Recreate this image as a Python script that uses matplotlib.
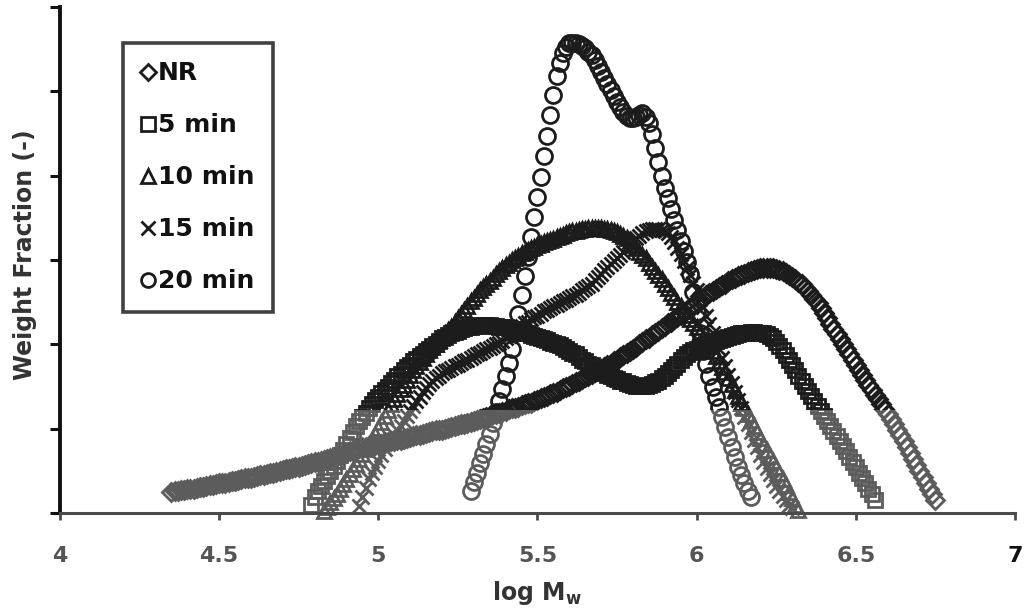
import numpy as np
import matplotlib.pyplot as plt
from matplotlib.lines import Line2D
from matplotlib.patches import Rectangle

# GPC slices are 0.01 apart in log Mw; each series lists its first slice and the weight fractions
x_start_nr = 4.35
wf_nr = [0.25, 0.26, 0.26, 0.27, 0.27, 0.28, 0.29, 0.29, 0.30, 0.31, 0.31, 0.32, 0.33, 0.33, 0.34,
         0.35, 0.35, 0.36, 0.37, 0.38, 0.38, 0.39, 0.40, 0.41, 0.41, 0.42, 0.43, 0.44, 0.45, 0.45,
         0.46, 0.47, 0.48, 0.49, 0.50, 0.51, 0.52, 0.52, 0.53, 0.54, 0.55, 0.56, 0.57, 0.58, 0.59,
         0.60, 0.61, 0.62, 0.63, 0.64, 0.65, 0.66, 0.68, 0.69, 0.70, 0.71, 0.73, 0.74, 0.75, 0.77,
         0.78, 0.78, 0.79, 0.80, 0.81, 0.82, 0.82, 0.83, 0.84, 0.85, 0.86, 0.86, 0.87, 0.88, 0.89,
         0.90, 0.91, 0.92, 0.93, 0.94, 0.95, 0.96, 0.97, 0.98, 0.98, 0.99, 1.00, 1.01, 1.02, 1.03,
         1.04, 1.05, 1.06, 1.07, 1.08, 1.09, 1.10, 1.12, 1.13, 1.14, 1.15, 1.17, 1.18, 1.19, 1.20,
         1.21, 1.23, 1.24, 1.25, 1.26, 1.28, 1.29, 1.30, 1.31, 1.33, 1.34, 1.36, 1.37, 1.39, 1.41,
         1.42, 1.44, 1.46, 1.48, 1.49, 1.51, 1.53, 1.55, 1.57, 1.59, 1.61, 1.63, 1.65, 1.67, 1.69,
         1.71, 1.73, 1.75, 1.77, 1.80, 1.82, 1.85, 1.87, 1.90, 1.92, 1.95, 1.97, 2.00, 2.03, 2.06,
         2.08, 2.11, 2.14, 2.16, 2.19, 2.22, 2.25, 2.27, 2.30, 2.33, 2.35, 2.38, 2.41, 2.43, 2.46,
         2.50, 2.53, 2.55, 2.58, 2.61, 2.63, 2.66, 2.68, 2.70, 2.72, 2.75, 2.77, 2.79, 2.81, 2.82,
         2.84, 2.86, 2.87, 2.88, 2.89, 2.90, 2.91, 2.91, 2.91, 2.90, 2.89, 2.88, 2.87, 2.85, 2.82,
         2.80, 2.77, 2.74, 2.71, 2.67, 2.63, 2.59, 2.54, 2.49, 2.43, 2.37, 2.31, 2.24, 2.18, 2.12,
         2.06, 2.00, 1.94, 1.88, 1.82, 1.76, 1.70, 1.64, 1.58, 1.52, 1.46, 1.40, 1.35, 1.29, 1.23,
         1.17, 1.11, 1.05, 0.99, 0.92, 0.85, 0.78, 0.71, 0.64, 0.57, 0.50, 0.43, 0.36, 0.29, 0.22,
         0.15]

x_start_5 = 4.79
wf_5 = [0.10, 0.19, 0.26, 0.32, 0.38, 0.44, 0.50, 0.56, 0.62, 0.69, 0.75, 0.82, 0.89, 0.96, 1.03,
        1.09, 1.14, 1.19, 1.24, 1.29, 1.34, 1.38, 1.42, 1.46, 1.50, 1.54, 1.58, 1.62, 1.65, 1.69,
        1.73, 1.76, 1.80, 1.83, 1.86, 1.89, 1.92, 1.95, 1.98, 2.01, 2.04, 2.07, 2.09, 2.11, 2.13,
        2.15, 2.16, 2.18, 2.19, 2.20, 2.21, 2.22, 2.22, 2.23, 2.23, 2.23, 2.23, 2.22, 2.22, 2.21,
        2.21, 2.20, 2.19, 2.18, 2.17, 2.16, 2.15, 2.14, 2.13, 2.11, 2.10, 2.09, 2.08, 2.06, 2.05,
        2.03, 2.02, 2.00, 1.99, 1.97, 1.95, 1.92, 1.90, 1.88, 1.85, 1.82, 1.80, 1.77, 1.75, 1.72,
        1.70, 1.68, 1.66, 1.64, 1.62, 1.60, 1.59, 1.57, 1.56, 1.54, 1.53, 1.52, 1.51, 1.51, 1.51,
        1.51, 1.52, 1.53, 1.55, 1.57, 1.60, 1.63, 1.66, 1.69, 1.73, 1.77, 1.81, 1.85, 1.88, 1.91,
        1.93, 1.95, 1.97, 1.99, 2.00, 2.01, 2.03, 2.04, 2.05, 2.06, 2.08, 2.09, 2.10, 2.11, 2.12,
        2.13, 2.14, 2.14, 2.15, 2.15, 2.14, 2.14, 2.13, 2.12, 2.10, 2.07, 2.03, 1.98, 1.93, 1.87,
        1.81, 1.75, 1.69, 1.63, 1.57, 1.51, 1.45, 1.39, 1.33, 1.27, 1.21, 1.15, 1.09, 1.03, 0.97,
        0.91, 0.85, 0.79, 0.73, 0.67, 0.61, 0.54, 0.48, 0.41, 0.35, 0.29, 0.22, 0.16]

x_start_10 = 4.83
wf_10 = [0.02, 0.07, 0.13, 0.18, 0.23, 0.28, 0.34, 0.40, 0.46, 0.52, 0.58, 0.64, 0.70, 0.76, 0.82,
         0.88, 0.94, 1.01, 1.08, 1.15, 1.22, 1.29, 1.35, 1.41, 1.47, 1.52, 1.58, 1.64, 1.69, 1.74,
         1.79, 1.84, 1.89, 1.93, 1.97, 2.01, 2.05, 2.09, 2.13, 2.17, 2.21, 2.26, 2.31, 2.36, 2.41,
         2.46, 2.51, 2.55, 2.60, 2.64, 2.68, 2.72, 2.75, 2.79, 2.83, 2.87, 2.91, 2.94, 2.97, 3.00,
         3.03, 3.05, 3.08, 3.10, 3.12, 3.14, 3.16, 3.18, 3.19, 3.21, 3.22, 3.24, 3.25, 3.27, 3.29,
         3.30, 3.32, 3.33, 3.34, 3.35, 3.36, 3.37, 3.37, 3.38, 3.38, 3.38, 3.38, 3.38, 3.37, 3.37,
         3.36, 3.34, 3.33, 3.31, 3.29, 3.26, 3.22, 3.18, 3.14, 3.10, 3.06, 3.02, 2.97, 2.92, 2.87,
         2.82, 2.77, 2.72, 2.67, 2.61, 2.56, 2.50, 2.45, 2.40, 2.35, 2.30, 2.25, 2.20, 2.15, 2.09,
         2.04, 1.98, 1.92, 1.86, 1.80, 1.73, 1.67, 1.60, 1.53, 1.46, 1.39, 1.31, 1.24, 1.17, 1.10,
         1.03, 0.96, 0.89, 0.82, 0.75, 0.68, 0.62, 0.55, 0.48, 0.40, 0.33, 0.25, 0.18, 0.10, 0.04]

x_start_15 = 4.94
wf_15 = [0.08, 0.19, 0.30, 0.40, 0.48, 0.55, 0.62, 0.69, 0.76, 0.82, 0.88, 0.93, 0.98, 1.03, 1.09,
         1.15, 1.21, 1.27, 1.33, 1.38, 1.43, 1.48, 1.53, 1.57, 1.60, 1.63, 1.66, 1.68, 1.70, 1.72,
         1.74, 1.76, 1.78, 1.80, 1.82, 1.84, 1.86, 1.88, 1.90, 1.92, 1.94, 1.96, 1.98, 2.00, 2.02,
         2.04, 2.07, 2.10, 2.13, 2.16, 2.19, 2.22, 2.25, 2.27, 2.30, 2.32, 2.34, 2.36, 2.39, 2.41,
         2.43, 2.45, 2.47, 2.49, 2.51, 2.53, 2.55, 2.57, 2.59, 2.61, 2.64, 2.67, 2.69, 2.72, 2.76,
         2.80, 2.84, 2.88, 2.92, 2.95, 2.99, 3.03, 3.06, 3.10, 3.14, 3.18, 3.22, 3.26, 3.29, 3.32,
         3.34, 3.36, 3.37, 3.37, 3.37, 3.36, 3.35, 3.32, 3.27, 3.21, 3.14, 3.07, 2.99, 2.91, 2.82,
         2.73, 2.64, 2.54, 2.44, 2.34, 2.24, 2.14, 2.04, 1.94, 1.84, 1.74, 1.64, 1.54, 1.44, 1.34,
         1.24, 1.14, 1.05, 0.96, 0.87, 0.78, 0.69, 0.61, 0.53, 0.46, 0.39, 0.32, 0.26, 0.20, 0.15,
         0.10, 0.06]

x_start_20 = 5.29
wf_20 = [0.26, 0.37, 0.48, 0.59, 0.70, 0.82, 0.94, 1.07, 1.20, 1.33, 1.47, 1.62, 1.78, 1.95, 2.14,
         2.36, 2.58, 2.81, 3.04, 3.27, 3.51, 3.75, 3.99, 4.23, 4.47, 4.72, 4.96, 5.18, 5.34, 5.46,
         5.53, 5.57, 5.58, 5.58, 5.56, 5.54, 5.51, 5.47, 5.43, 5.37, 5.30, 5.23, 5.16, 5.09, 5.02,
         4.95, 4.88, 4.81, 4.75, 4.71, 4.69, 4.69, 4.70, 4.72, 4.74, 4.70, 4.62, 4.49, 4.33, 4.16,
         4.00, 3.86, 3.73, 3.61, 3.48, 3.36, 3.23, 3.11, 2.98, 2.84, 2.62, 2.38, 2.13, 1.92, 1.77,
         1.63, 1.50, 1.38, 1.26, 1.14, 1.02, 0.90, 0.78, 0.66, 0.55, 0.45, 0.35, 0.26, 0.19]

labels = ["NR", "5 min", "10 min", "15 min", "20 min"]
markers = ["D", "s", "^", "x", "o"]
starts = [x_start_nr, x_start_5, x_start_10, x_start_15, x_start_20]
series = [wf_nr, wf_5, wf_10, wf_15, wf_20]
msizes = [9, 10, 10, 9.5, 11.5]

x_ticks = [4, 4.5, 5, 5.5, 6, 6.5, 7]
x_tick_labels = ["4", "4.5", "5", "5.5", "6", "6.5", "7"]

ink = "#1c1c1c"
faded = "#5c5c5c"   # the scan of the original prints the lower band lighter
fade_level = 1.23

fig = plt.figure(figsize=(10.33, 6.11), dpi=100)
ax = fig.add_axes([0.058, 0.1604, 0.9245, 0.828])

for x0, wf, m, ms in zip(starts, series, markers, msizes):
    x = x0 + 0.01 * np.arange(len(wf))
    for color, y0, y1 in [(faded, -1, fade_level), (ink, fade_level, 10)]:
        ln, = ax.plot(x, wf, linestyle="none", marker=m, markersize=ms,
                      markerfacecolor="none", markeredgecolor=color, markeredgewidth=2.0)
        ln.set_clip_path(Rectangle((3, y0), 5, y1 - y0, transform=ax.transData))

ax.set_xlim(4, 7)
ax.set_ylim(0, 6)
ax.set_xticks(x_ticks)
ax.set_xticklabels(x_tick_labels)
ax.set_yticks(range(7))
ax.set_yticklabels([])

for side in ["top", "right"]:
    ax.spines[side].set_visible(False)
ax.spines["left"].set_linewidth(2.8)
ax.spines["left"].set_color("#111111")
ax.spines["bottom"].set_linewidth(2.2)
ax.spines["bottom"].set_color("#4a4a4a")

ax.tick_params(axis="y", direction="out", length=7, width=2.2, color="#111111")
ax.tick_params(axis="x", direction="out", length=5, width=2, color="#4a4a4a", pad=19)
for lbl in ax.get_xticklabels():
    lbl.set_fontsize(16)
    lbl.set_fontweight("bold")
    lbl.set_color("#555555")
ax.get_xticklabels()[-1].set_color("#111111")

ax.set_xlabel("log M$_\\mathbf{w}$", fontsize=17, fontweight="bold", color="#333333")
ax.xaxis.set_label_coords(0.5, -0.13)
ax.set_ylabel("Weight Fraction (-)", fontsize=17, fontweight="bold", color="#333333")
ax.yaxis.set_label_coords(-0.024, 0.51)

handles = [Line2D([], [], linestyle="none", marker=m, markersize=(8 if m == "D" else 10),
                  markerfacecolor="none", markeredgecolor=ink, markeredgewidth=2.0)
           for m in markers]
leg = ax.legend(handles, labels, loc="upper left", bbox_to_anchor=(0.066, 0.93),
                frameon=True, fancybox=False, handlelength=0.5, handletextpad=0.15,
                labelspacing=1.12, borderpad=0.75, borderaxespad=0,
                prop={"size": 18, "weight": "bold"})
leg.get_frame().set_edgecolor("#111111")
leg.get_frame().set_linewidth(2.6)
for t in leg.get_texts():
    t.set_color("#111111")

fig.savefig("out.png", dpi=100)
